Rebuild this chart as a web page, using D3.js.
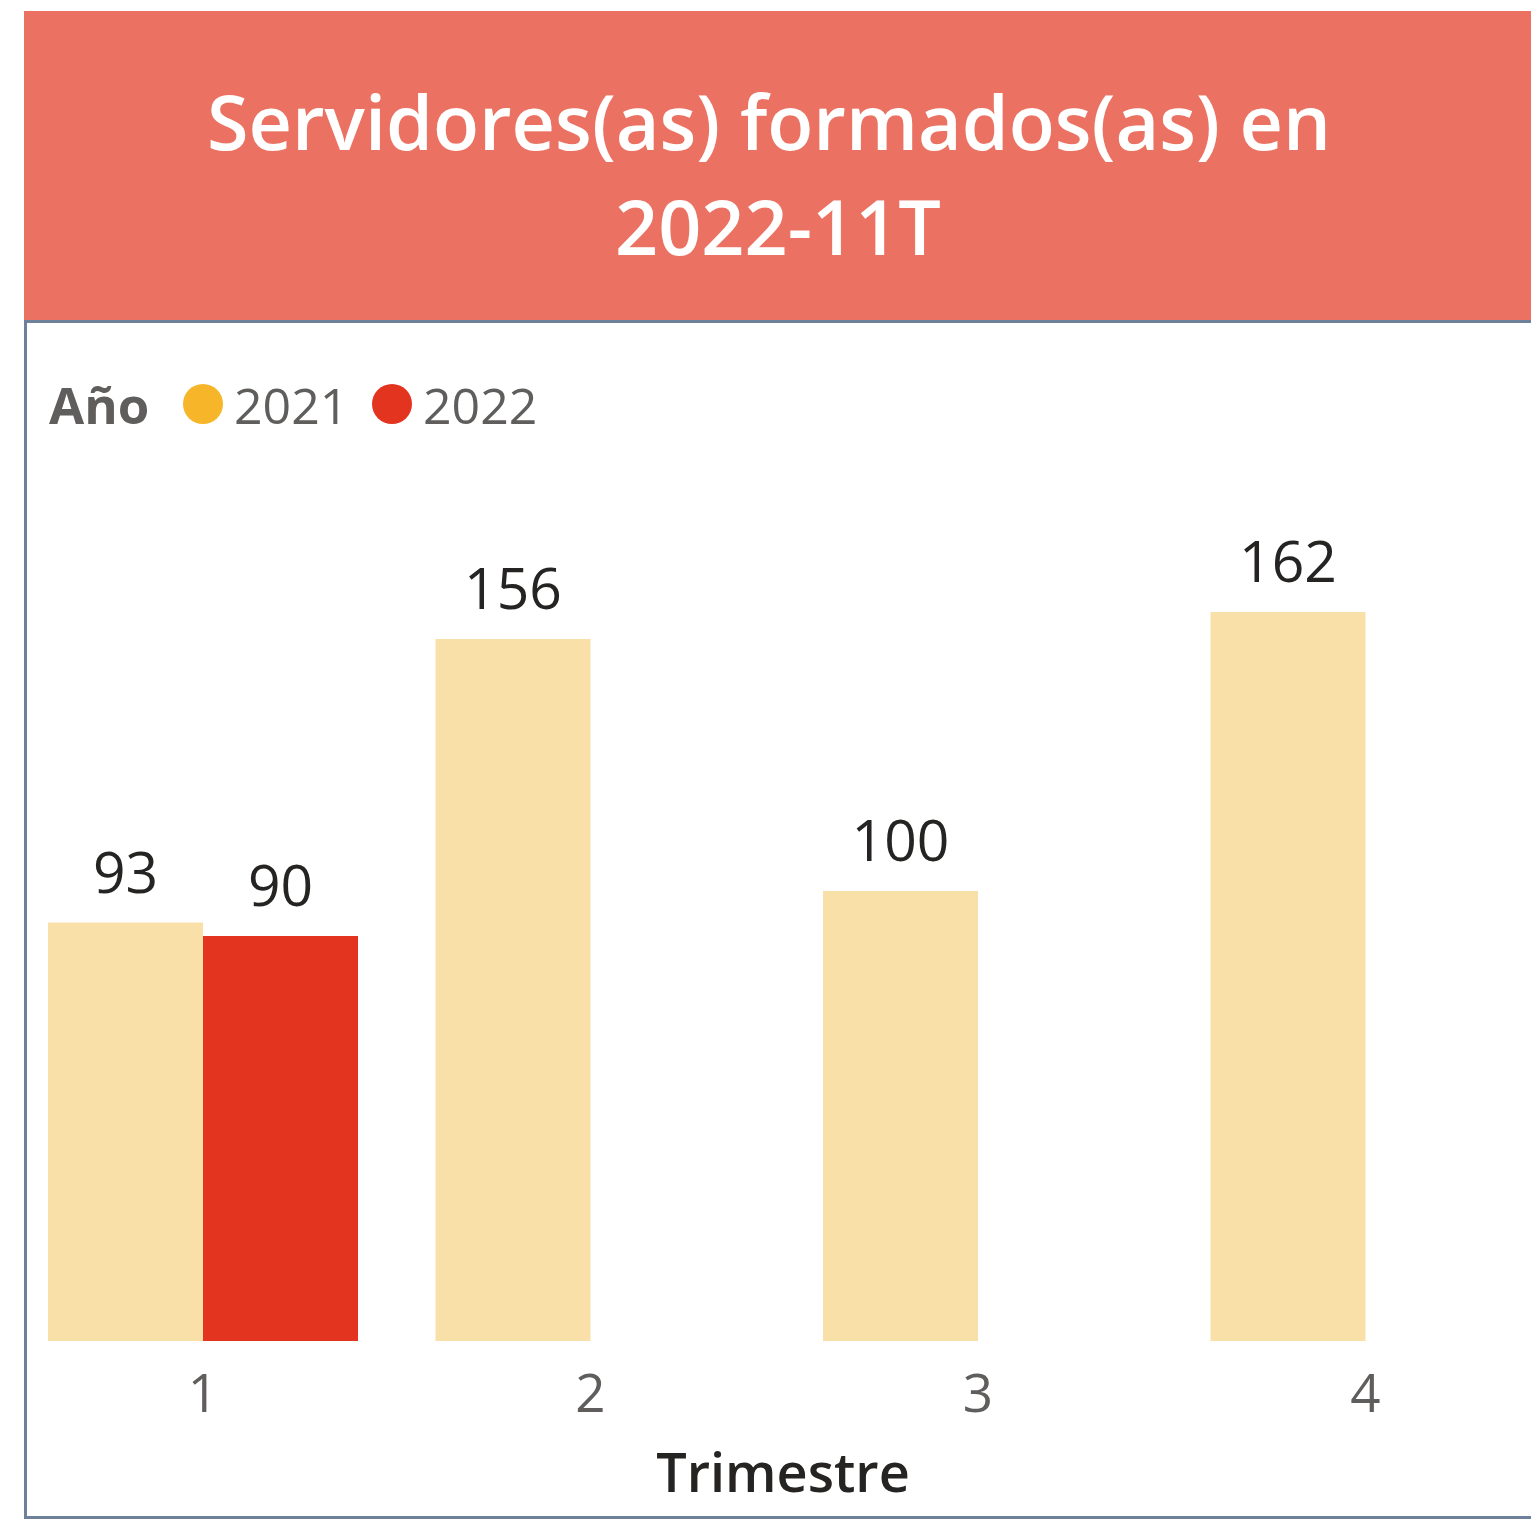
<!DOCTYPE html>
<html lang="es">
<head>
<meta charset="utf-8">
<script src="https://cdn.jsdelivr.net/npm/d3@7"></script>
<style>
  html, body { margin: 0; padding: 0; background: #ffffff; }
  svg { display: block; }
</style>
</head>
<body>
<svg id="chart" width="1531" height="1524"></svg>
<script>
// Trimestres del eje X
const quarters = [1, 2, 3, 4];
// Años de la leyenda
const years = ["2021", "2022"];
// Servidores formados por trimestre, 2021
const values2021 = [93, 156, 100, 162];
// Servidores formados por trimestre, 2022 (solo el primero tiene dato)
const values2022 = [90, null, null, null];
const titleLines = ["Servidores(as) formados(as) en", "2022-11T"];
const legendTitle = "Año";
const xAxisTitle = "Trimestre";

const svg = d3.select("#chart");
const W = 1531, H = 1524;

const colors = {
  banner: "#EB7262",
  frame: "#6F809B",
  bar2021: "#F9E0A8",
  dot2021: "#F7B52A",
  bar2022: "#E3341F",
  label: "#252423",
  axis: "#605E5C"
};

// Cabecera
svg.append("rect").attr("x", 24).attr("y", 11).attr("width", W - 24).attr("height", 310)
  .attr("fill", colors.banner);

svg.append("g").selectAll("text").data(titleLines).join("text")
  .attr("x", (d, i) => i === 0 ? 769 : 778)
  .attr("y", (d, i) => 150 + i * 105)
  .attr("text-anchor", "middle")
  .attr("fill", "#ffffff")
  .attr("font-family", "'Open Sans', sans-serif")
  .attr("font-weight", 600)
  .attr("font-size", 75.5)
  .text(d => d);

// Marco del gráfico
svg.append("path")
  .attr("d", `M${W},321.5 H25.5 V1517.5 H${W}`)
  .attr("fill", "none").attr("stroke", colors.frame).attr("stroke-width", 3);

// Leyenda
const legend = svg.append("g");
legend.append("text").attr("x", 49).attr("y", 424)
  .attr("fill", colors.axis).attr("font-family", "'Open Sans', sans-serif")
  .attr("font-weight", 700).attr("font-size", 51).text(legendTitle);
const legendX = [203, 392];
const legendColors = [colors.dot2021, colors.bar2022];
years.forEach((y, i) => {
  legend.append("circle").attr("cx", legendX[i]).attr("cy", 404).attr("r", 20)
    .attr("fill", legendColors[i]);
  legend.append("text").attr("x", legendX[i] + 31).attr("y", 424)
    .attr("fill", colors.axis).attr("font-family", "'Open Sans', sans-serif")
    .attr("font-size", 50).text(y);
});

// Escalas
const x0 = d3.scaleBand().domain(quarters).range([9.25, 1559.25])
  .paddingInner(0.2).paddingOuter(0.1);
const x1 = d3.scaleBand().domain(years).range([0, x0.bandwidth()]);
const y = d3.scaleLinear().domain([0, 200]).range([1341, 441]);

const rows = quarters.map((q, i) => ({
  q,
  bars: [
    { year: "2021", value: values2021[i] },
    { year: "2022", value: values2022[i] }
  ].filter(d => d.value != null)
}));

const groups = svg.append("g").selectAll("g").data(rows).join("g")
  .attr("transform", d => `translate(${x0(d.q)},0)`);

groups.selectAll("rect").data(d => d.bars).join("rect")
  .attr("x", d => x1(d.year))
  .attr("y", d => y(d.value))
  .attr("width", x1.bandwidth())
  .attr("height", d => y(0) - y(d.value))
  .attr("fill", d => d.year === "2021" ? colors.bar2021 : colors.bar2022);

groups.selectAll("text").data(d => d.bars).join("text")
  .attr("x", d => x1(d.year) + x1.bandwidth() / 2)
  .attr("y", d => y(d.value) - 30)
  .attr("text-anchor", "middle")
  .attr("fill", colors.label)
  .attr("font-family", "'Open Sans', sans-serif")
  .attr("font-size", 57)
  .text(d => d.value);

// Eje X
const xAxis = svg.append("g").attr("transform", `translate(0,${y(0)})`)
  .call(d3.axisBottom(x0).tickSize(0).tickPadding(0));
xAxis.select(".domain").remove();
xAxis.selectAll("text")
  .attr("y", 71).attr("dy", null)
  .attr("fill", colors.axis)
  .attr("font-family", "'Open Sans', sans-serif")
  .attr("font-size", 53);

svg.append("text").attr("x", 783).attr("y", 1492)
  .attr("text-anchor", "middle")
  .attr("fill", colors.label)
  .attr("font-family", "'Open Sans', sans-serif")
  .attr("font-weight", 600)
  .attr("font-size", 54)
  .text(xAxisTitle);
</script>
</body>
</html>
